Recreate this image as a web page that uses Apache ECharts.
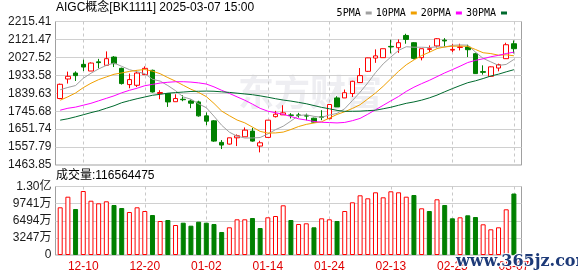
<!DOCTYPE html>
<html>
<head>
<meta charset="utf-8">
<script src="https://cdn.jsdelivr.net/npm/echarts@6/dist/echarts.min.js"></script>
<style>
html,body{margin:0;padding:0;background:#fff;}
#chart{width:578px;height:276px;}
</style>
</head>
<body>
<div id="chart"></div>
<script>
const titleText = 'AIGC概念[BK1111] 2025-03-07 15:00';
const lastVolume = 116564475;
const legendNames = ['5PMA', '10PMA', '20PMA', '30PMA'];
const dates = ['12-05','12-06','12-09','12-10','12-11','12-12','12-13','12-16','12-17','12-18','12-19','12-20','12-23','12-24','12-25','12-26','12-27','12-30','12-31','01-02','01-03','01-06','01-07','01-08','01-09','01-10','01-13','01-14','01-15','01-16','01-17','01-20','01-21','01-22','01-23','01-24','01-27','02-05','02-06','02-07','02-10','02-11','02-12','02-13','02-14','02-17','02-18','02-19','02-20','02-21','02-24','02-25','02-26','02-27','02-28','03-03','03-04','03-05','03-06','03-07'];
const openP = [1812.0,1914.3,1945.6,1991.0,1956.0,2004.0,1985.8,2029.1,1970.1,1885.0,1881.4,1937.2,1959.7,1838.1,1838.1,1795.3,1808.3,1799.4,1794.2,1721.2,1695.1,1582.3,1573.5,1606.3,1611.6,1641.3,1563.0,1608.4,1717.0,1726.4,1725.8,1726.0,1722.0,1709.0,1716.0,1706.5,1815.1,1815.1,1838.1,1895.5,1954.5,2023.9,2026.0,2085.0,2078.1,2142.3,2104.3,2026.0,2069.3,2087.5,2117.8,2065.6,2079.7,2081.3,2046.8,1952.9,1928.4,1971.7,2020.7,2099.0];
const closeP = [1886.6,1928.4,1932.0,1976.9,1997.8,2000.0,2020.7,1994.6,1890.3,1911.1,1945.6,1970.1,1846.4,1843.3,1794.2,1812.0,1805.7,1787.4,1721.2,1693.5,1589.1,1568.2,1606.3,1616.8,1646.5,1589.1,1580.2,1698.7,1730.0,1736.9,1723.8,1724.0,1720.0,1688.3,1714.0,1780.7,1768.1,1842.3,1902.3,1932.0,2025.0,2035.4,2072.9,2082.4,2104.3,2121.5,2022.3,2072.9,2072.9,2125.1,2113.6,2069.3,2082.3,2067.7,1942.5,1949.2,1978.0,1989.4,2093.8,2072.9];
const lowP = [1808.3,1890.3,1903.8,1956.0,1956.0,1970.1,1983.0,1976.9,1885.0,1865.7,1872.5,1935.2,1843.3,1808.3,1768.1,1795.3,1797.9,1761.4,1717.0,1672.6,1585.5,1547.4,1571.0,1563.0,1611.6,1586.0,1530.0,1608.4,1712.8,1726.0,1707.6,1712.0,1698.0,1685.7,1698.7,1704.0,1768.1,1815.1,1820.3,1893.4,1950.8,1998.8,2026.0,2048.4,2051.0,2099.0,2017.1,2011.9,2055.2,2079.0,2084.9,2055.2,2064.0,2029.1,1940.4,1937.2,1925.8,1954.5,2019.7,2048.4];
const highP = [1890.0,1952.9,1954.5,2015.5,2001.4,2019.7,2058.8,2034.3,1973.8,1942.5,1959.7,1980.6,1963.3,1855.3,1839.6,1834.4,1829.2,1806.8,1800.5,1738.9,1698.7,1594.4,1606.8,1624.1,1660.6,1658.5,1590.8,1698.7,1747.3,1777.0,1735.3,1737.0,1733.0,1711.8,1750.9,1780.7,1824.0,1858.9,1905.0,1971.7,2026.0,2069.3,2072.9,2119.9,2121.5,2151.2,2107.4,2072.9,2090.1,2128.3,2128.3,2099.0,2099.0,2093.8,2052.0,1985.8,1980.0,1994.6,2104.3,2116.2];
const ma5 = [1858,1870,1880,1918,1944.3,1967.0,1985.5,1998.0,1980.7,1963.3,1952.5,1942.3,1912.7,1903.3,1879.9,1853.2,1820.3,1808.5,1784.1,1764.0,1719.4,1671.9,1635.7,1614.8,1605.4,1605.4,1607.8,1626.3,1648.9,1667.0,1693.9,1722.7,1726.9,1718.6,1714.0,1725.4,1734.2,1758.7,1801.5,1845.1,1893.9,1947.4,1993.5,2029.5,2064.0,2083.3,2080.7,2080.7,2078.8,2082.9,2081.4,2090.8,2092.6,2091.6,2055.1,2022.2,2004.0,1985.4,1990.6,2016.7];
const ma10 = [1803,1821,1841,1869,1892,1911,1925,1939,1946,1953.8,1959.8,1963.9,1955.4,1942.0,1921.6,1902.9,1881.3,1860.6,1843.7,1822.0,1786.3,1746.1,1722.1,1699.5,1684.7,1662.4,1639.9,1631.0,1631.9,1636.2,1649.7,1665.3,1676.6,1683.8,1690.5,1709.7,1728.5,1742.8,1760.1,1779.6,1809.7,1840.8,1876.1,1915.5,1954.6,1988.6,2014.1,2037.1,2054.2,2073.5,2082.4,2085.8,2086.7,2085.2,2069.0,2051.8,2047.4,2039.0,2041.1,2035.9];
const ma20 = [1751,1761,1767,1777,1787,1800,1813,1826,1842,1855,1866,1879,1886,1893,1897,1900,1900,1898,1894,1887.9,1873.1,1855.0,1838.8,1820.8,1803.2,1782.7,1760.6,1745.8,1737.8,1729.1,1718.0,1705.7,1699.4,1691.7,1687.6,1686.1,1684.2,1686.9,1696.0,1707.9,1729.7,1753.1,1776.4,1799.7,1822.6,1849.2,1871.3,1890.0,1907.2,1926.6,1946.1,1963.3,1981.4,2000.4,2011.8,2020.2,2030.8,2038.1,2047.7,2054.7];
const ma30 = [1698.7,1706,1716,1727,1738,1748,1761,1774,1790,1801,1811,1820,1829,1834,1840,1843,1846,1849,1850,1851,1850,1847,1844,1840,1836,1832,1826,1819,1811,1804.0,1798.6,1791.8,1784.7,1775.1,1765.6,1758.3,1749.9,1744.8,1745.2,1745.9,1748.6,1750.7,1758.3,1766.3,1776.6,1786.9,1794.2,1803.6,1815.4,1829.8,1847.3,1864.0,1879.8,1894.8,1904.7,1916.7,1930.0,1939.6,1951.8,1963.0];
const volumeWan = [9044,11054,8722,12134,10295,9802,10182,9480,8911,8153,9044,8342,7584,6446,6636,5688,6124,5555,6314,6124,5878,4361,5252,6769,6769,7015,5119,7148,7394,9423,6636,5878,6010,5252,6958,6769,6446,8342,9992,11319,10750,11888,10940,12078,11888,11054,11376,8854,8342,10561,9480,6958,7148,7527,7205,5821,4873,5252,8665,11656.4475];
const volumeUp = [1,1,0,1,1,1,1,0,0,1,1,1,0,1,0,1,0,0,0,0,0,0,1,1,1,0,0,1,1,1,0,1,1,0,1,1,0,1,1,1,1,1,1,1,1,1,0,1,0,1,0,0,1,0,0,1,1,1,1,0];
const priceTicks = ['1463.85','1557.79','1651.74','1745.68','1839.63','1933.58','2027.52','2121.47','2215.41'];
const volumeTicks = ['0','3247万','6494万','9741万','1.30亿'];
const volumeTickStep = 32470000;

const priceMin = parseFloat(priceTicks[0]);
const priceMax = parseFloat(priceTicks[priceTicks.length - 1]);
const volumeMax = volumeTickStep * (volumeTicks.length - 1);

const FONT = 'Liberation Sans, Noto Sans CJK SC, sans-serif';
const UP = '#ff0000', DOWN = '#008000';
const labelInterval = (i) => i % 8 === 3;
const dashed = {show: true, interval: labelInterval, alignWithLabel: true, lineStyle: {color: '#c8c8c8', type: [3, 3], width: 1}};

const chart = echarts.init(document.getElementById('chart'), null, {renderer: 'canvas'});
const option = {
  animation: false,
  backgroundColor: '#ffffff',
  textStyle: {fontFamily: FONT},
  legend: {
    data: legendNames,
    right: 66, top: 3,
    icon: 'rect', itemWidth: 6, itemHeight: 3, itemGap: 4,
    align: 'right',
    textStyle: {fontSize: 10, color: '#000', fontFamily: 'DejaVu Sans Mono, monospace'},
    selectedMode: false
  },
  grid: [
    {left: 55.5, top: 21.5, width: 466, height: 143.5, show: true, borderColor: '#a0a0a0', borderWidth: 1, backgroundColor: 'transparent'},
    {left: 56.35, top: 21.5, width: 461.4, height: 143.5},
    {left: 55.5, top: 186.5, width: 466, height: 68.5, show: true, borderColor: '#a0a0a0', borderWidth: 1, backgroundColor: 'transparent'},
    {left: 56.35, top: 186.5, width: 461.4, height: 68.5}
  ],
  xAxis: [
    {gridIndex: 0, type: 'value', min: 0, max: 1, show: false},
    {gridIndex: 1, type: 'category', data: dates, boundaryGap: true,
     axisLine: {show: false}, axisTick: {show: false}, axisLabel: {show: false}, splitLine: dashed},
    {gridIndex: 2, type: 'value', min: 0, max: 1, show: false},
    {gridIndex: 3, type: 'category', data: dates, boundaryGap: true,
     axisLine: {show: false}, axisTick: {show: false},
     axisLabel: {show: true, interval: labelInterval, color: '#e00000', fontSize: 12, fontFamily: FONT, margin: 6},
     splitLine: dashed}
  ],
  yAxis: [
    {gridIndex: 0, type: 'value', min: 0, max: priceTicks.length - 1, interval: 1,
     axisLine: {show: false}, axisTick: {show: false},
     axisLabel: {formatter: (v) => priceTicks[Math.round(v)], color: '#1a1a1a', fontSize: 12, fontFamily: FONT, margin: 4},
     splitLine: {show: true, lineStyle: {color: '#d0d0d0', width: 1}}},
    {gridIndex: 1, type: 'value', min: priceMin, max: priceMax, show: false},
    {gridIndex: 2, type: 'value', min: 0, max: volumeTicks.length - 1, interval: 1,
     axisLine: {show: false}, axisTick: {show: false},
     axisLabel: {formatter: (v) => volumeTicks[Math.round(v)], color: '#1a1a1a', fontSize: 12, fontFamily: FONT, margin: 4},
     splitLine: {show: true, lineStyle: {color: '#d0d0d0', width: 1}}},
    {gridIndex: 3, type: 'value', min: 0, max: volumeMax, show: false}
  ],
  graphic: [
    {type: 'text', left: 56, top: 2, z: 10, style: {text: titleText, fill: '#000', font: '12px ' + FONT}},
    {type: 'text', left: 56, top: 170, z: 10, style: {text: '成交量:' + lastVolume, fill: '#000', font: '12px ' + FONT}},
    {type: 'text', left: 238, top: 74, z: -1, style: {text: '东方财富', fill: '#eeeef2', font: 'bold 36px Noto Sans CJK SC'}},
    {type: 'text', left: 455, top: 253, z: 20, style: {text: 'www.365jz.com', fill: '#1d3a78', stroke: '#ffffff', lineWidth: 2, font: 'bold 16px DejaVu Serif'}}
  ],
  series: [
    {type: 'candlestick', name: 'K', xAxisIndex: 1, yAxisIndex: 1, barWidth: 5, z: 3,
     data: dates.map((d, i) => [openP[i], closeP[i], lowP[i], highP[i]]),
     itemStyle: {color: '#ffffff', color0: DOWN, borderColor: UP, borderColor0: DOWN, borderWidth: 1}},
    {type: 'line', name: '5PMA', xAxisIndex: 1, yAxisIndex: 1, data: ma5, showSymbol: false, z: 4,
     lineStyle: {color: '#a0a0a0', width: 1}, itemStyle: {color: '#a0a0a0'}},
    {type: 'line', name: '10PMA', xAxisIndex: 1, yAxisIndex: 1, data: ma10, showSymbol: false, z: 4,
     lineStyle: {color: '#f0a000', width: 1}, itemStyle: {color: '#f0a000'}},
    {type: 'line', name: '20PMA', xAxisIndex: 1, yAxisIndex: 1, data: ma20, showSymbol: false, z: 4,
     lineStyle: {color: '#ff00ff', width: 1}, itemStyle: {color: '#ff00ff'}},
    {type: 'line', name: '30PMA', xAxisIndex: 1, yAxisIndex: 1, data: ma30, showSymbol: false, z: 4,
     lineStyle: {color: '#006a2e', width: 1}, itemStyle: {color: '#006a2e'}},
    {type: 'bar', name: 'VOL', xAxisIndex: 3, yAxisIndex: 3, barWidth: 5,
     data: volumeWan.map((v, i) => ({
       value: v * 10000,
       itemStyle: volumeUp[i] ? {color: '#ffffff', borderColor: UP, borderWidth: 1} : {color: DOWN, borderColor: DOWN, borderWidth: 1}
     }))}
  ]
};
chart.setOption(option);
</script>
</body>
</html>
